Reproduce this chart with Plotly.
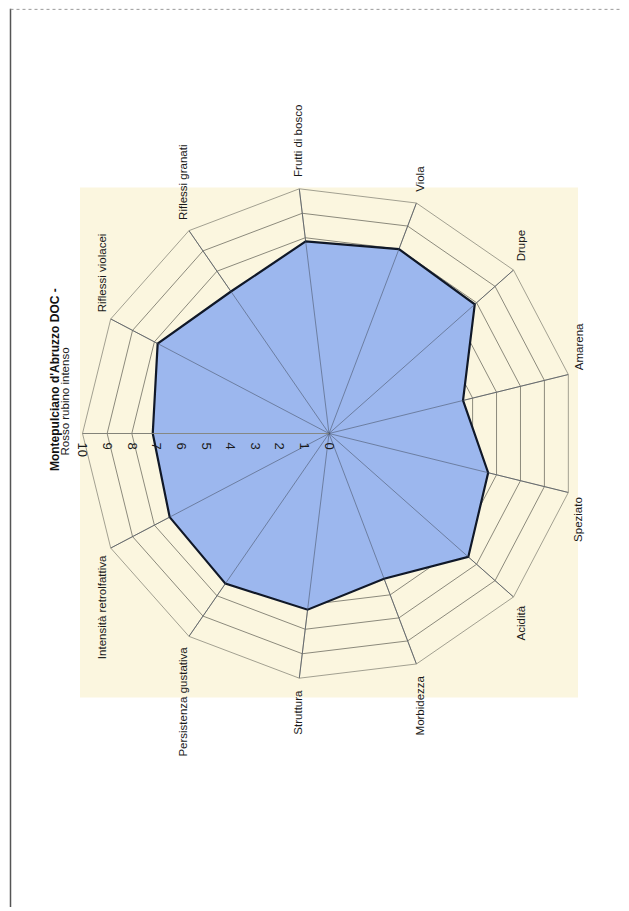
import math
import plotly.graph_objects as go

categories = ["Rosso rubino intenso", "Riflessi violacei", "Riflessi granati", "Frutti di bosco",
              "Viola", "Drupe", "Amarena", "Speziato", "Acidità", "Morbidezza", "Struttura",
              "Persistenza gustativa", "Intensità retrolfattiva"]
scores = [7.15, 7.85, 7.0, 7.85, 8.0, 7.9, 5.6, 6.65, 7.55, 6.3, 7.2, 7.4, 7.3]
radial_ticks = list(range(0, 11))
title_text = "Montepulciano d'Abruzzo DOC -"

FONT = "Arial, 'Liberation Sans', sans-serif"
# page body has an 8px margin, so the figure starts at (8, 8) on screen
W, H = 621, 903
R = 247                      # radius of the outer polygon in px
CX, CY = 321, 425.5          # polar centre in figure px
ML = CX - R
MT = CY - R
PW = 2 * R
MR = W - ML - PW
MB = H - MT - PW


def px_x(p):
    return (p - ML) / PW


def px_y(p):
    return (MT + PW - p) / PW


fig = go.Figure()

fig.add_trace(go.Scatterpolar(
    r=scores + [scores[0]],
    theta=categories + [categories[0]],
    mode="lines",
    fill="toself",
    fillcolor="#9cb7ee",
    line=dict(color="#101828", width=2.2),
    hoverinfo="skip",
    showlegend=False,
))

for c in categories:
    fig.add_trace(go.Scatterpolar(
        r=[0, radial_ticks[-1]],
        theta=[c, c],
        mode="lines",
        line=dict(color="rgba(70,80,100,0.7)", width=0.8),
        hoverinfo="skip",
        showlegend=False,
    ))

# category labels, rotated like the scanned page
annotations = []
n = len(categories)
r_lab = (R + 10) / PW
for k, c in enumerate(categories):
    th = math.radians(k * 360.0 / n)
    dx = -math.cos(th)
    dy = math.sin(th)          # paper y points up
    ann = dict(text=c, xref="paper", yref="paper",
               x=0.5 + r_lab * dx, y=0.5 + r_lab * dy,
               textangle=-90, showarrow=False,
               font=dict(family=FONT, size=11.5, color="#1a1a1a"))
    if abs(dy) < 0.05:
        ann.update(xanchor="right" if dx < 0 else "left", yanchor="middle", yshift=32)
    else:
        ann.update(xanchor="center", yanchor="bottom" if dy > 0 else "top")
    annotations.append(ann)

annotations.append(dict(
    text="<b>" + title_text + "</b>", xref="paper", yref="paper",
    x=px_x(47), y=px_y(372), textangle=-90, showarrow=False,
    font=dict(family=FONT, size=12, color="#111111"),
    xanchor="center", yanchor="middle"))

fig.update_layout(
    width=W, height=H,
    margin=dict(l=ML, r=MR, t=MT, b=MB),
    paper_bgcolor="white",
    plot_bgcolor="white",
    font=dict(family=FONT, color="#1a1a1a", size=11),
    polar=dict(
        domain=dict(x=[0, 1], y=[0, 1]),
        bgcolor="rgba(0,0,0,0)",
        gridshape="linear",
        angularaxis=dict(
            type="category",
            categoryarray=categories,
            rotation=180,
            direction="clockwise",
            showticklabels=False,
            showline=True,
            linecolor="#8c8a7c",
            linewidth=0.8,
            gridcolor="#8c8a7c",
            gridwidth=0.8,
            ticks="",
        ),
        radialaxis=dict(
            range=[0, 10],
            tickvals=radial_ticks,
            ticktext=[str(t) for t in radial_ticks],
            angle=180,
            tickangle=-90,
            side="counterclockwise",
            showline=True,
            linecolor="#8c8a7c",
            linewidth=0.8,
            gridcolor="#8c8a7c",
            gridwidth=0.8,
            ticks="outside",
            ticklen=6,
            tickcolor="rgba(0,0,0,0)",
            tickfont=dict(family=FONT, size=13, color="#1a1a1a"),
        ),
    ),
    shapes=[
        dict(type="rect", xref="paper", yref="paper", layer="below",
             x0=px_x(72), x1=px_x(570), y0=px_y(690), y1=px_y(179),
             fillcolor="#fbf6df", line=dict(width=0)),
        dict(type="line", xref="paper", yref="paper",
             x0=px_x(2.5), x1=px_x(2.5), y0=px_y(0), y1=px_y(900),
             line=dict(color="#555555", width=1.5)),
        dict(type="line", xref="paper", yref="paper",
             x0=px_x(2.5), x1=px_x(620), y0=px_y(0.5), y1=px_y(0.5),
             line=dict(color="#9a9a9a", width=1, dash="dot")),
    ],
    annotations=annotations,
)

fig.write_html("out.html")
